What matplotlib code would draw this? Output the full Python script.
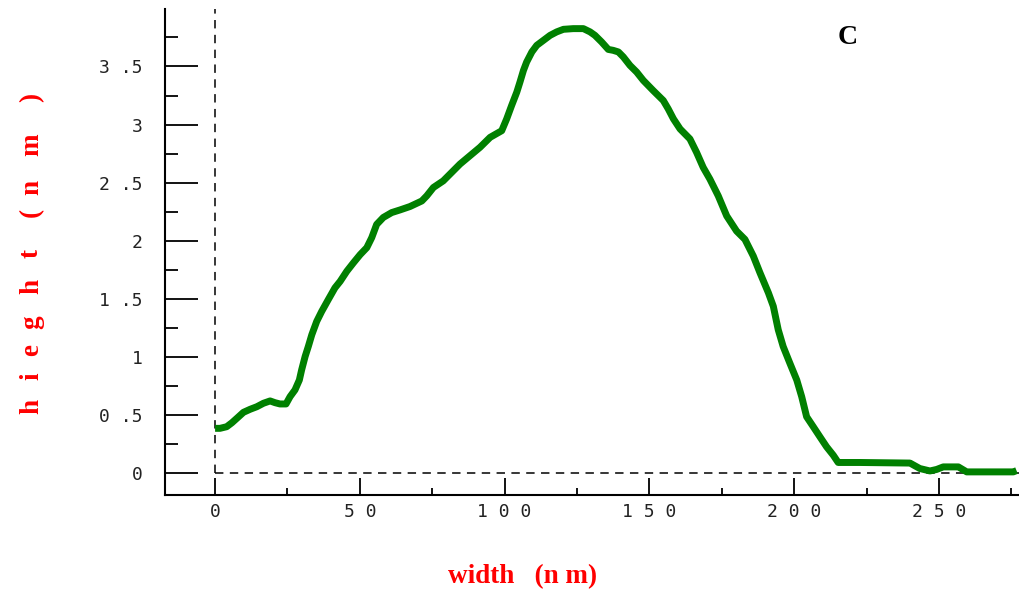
import numpy as np
import matplotlib.pyplot as plt
from matplotlib.ticker import MultipleLocator

# profile: width (nm) vs height (nm)
width_nm = [0, 1.7, 4.0, 5.8, 7.5, 9.8, 12.1, 14.4, 16.7, 19.0, 20.7, 22.4, 24.5,
            25.9, 27.6, 29.1, 29.9, 31.1, 32.2, 33.4, 35.1, 36.8, 39.1, 41.4,
            43.2, 45.5, 47.8, 50.1, 52.4, 54.1, 55.8, 58.1, 61.0, 63.9, 67.3,
            71.4, 73.1, 75.4, 78.8, 84.6, 91.5, 95.0, 99.0, 100.7, 102.4, 104.2,
            105.3, 106.5, 107.6, 109.4, 111.1, 113.4, 115.7, 118.0, 120.3, 123.7,
            127.2, 129.5, 131.2, 133.5, 135.8, 137.5, 139.3, 141.0, 143.3, 145.6,
            147.9, 151.3, 154.8, 156.5, 158.3, 160.6, 164.0, 166.3, 168.6, 170.9,
            173.8, 176.7, 180.1, 183.0, 185.9, 188.2, 191.1, 192.8, 194.5, 196.2,
            198.5, 200.9, 202.6, 204.3, 206.6, 208.9, 211.2, 213.5, 215.2, 222.7,
            240.0, 243.4, 246.9, 249.2, 251.5, 256.7, 259.6, 275.7, 276.8]
height_nm = [0.384, 0.384, 0.398, 0.432, 0.47, 0.522, 0.548, 0.57, 0.60, 0.62, 0.605,
             0.594, 0.594, 0.657, 0.715, 0.80, 0.888, 1.003, 1.089, 1.19, 1.305, 1.39,
             1.493, 1.594, 1.65, 1.737, 1.81, 1.88, 1.94, 2.026, 2.14, 2.20, 2.242,
             2.265, 2.294, 2.342, 2.386, 2.458, 2.515, 2.66, 2.804, 2.89, 2.947,
             3.048, 3.163, 3.279, 3.366, 3.466, 3.538, 3.625, 3.682, 3.725, 3.768,
             3.798, 3.82, 3.826, 3.826, 3.798, 3.768, 3.711, 3.647, 3.639, 3.625,
             3.582, 3.509, 3.452, 3.38, 3.293, 3.207, 3.135, 3.049, 2.962, 2.876,
             2.76, 2.63, 2.53, 2.385, 2.213, 2.083, 2.011, 1.867, 1.723, 1.551,
             1.435, 1.233, 1.089, 0.946, 0.80, 0.657, 0.484, 0.398, 0.311, 0.225,
             0.153, 0.09, 0.09, 0.085, 0.038, 0.017, 0.03, 0.052, 0.052, 0.009,
             0.009, 0.02]

xticks = [0, 50, 100, 150, 200, 250]
xtick_labels = ['0', '5 0', '1 0 0', '1 5 0', '2 0 0', '2 5 0']
yticks = [0, 0.5, 1, 1.5, 2, 2.5, 3, 3.5]
ytick_labels = ['0', '0 .5', '1', '1 .5', '2', '2 .5', '3', '3 .5']

fig = plt.figure(figsize=(10.2, 5.96), dpi=100)
ax = fig.add_axes([165 / 1020, 101 / 596, 855 / 1020, 486 / 596])

ax.set_xlim(-17.3, 278)
ax.set_ylim(-0.19, 3.995)

# dashed zero lines
ax.axvline(0, ymin=0.19 / 4.185, ymax=1, color='black', lw=1.1,
           linestyle=(0, (5.5, 4.2)), zorder=1)
ax.axhline(0, xmin=17.3 / 295.3, xmax=1, color='black', lw=1.1,
           linestyle=(0, (5.5, 4.2)), zorder=1)

ax.plot(width_nm, height_nm, color='green', lw=5, solid_capstyle='butt',
        solid_joinstyle='round', zorder=3)

for side in ['top', 'right']:
    ax.spines[side].set_visible(False)
for side in ['left', 'bottom']:
    ax.spines[side].set_linewidth(1.5)

ax.set_xticks(xticks)
ax.set_xticklabels(xtick_labels)
ax.set_yticks(yticks)
ax.set_yticklabels(ytick_labels)
ax.xaxis.set_minor_locator(MultipleLocator(25))
ax.yaxis.set_minor_locator(MultipleLocator(0.25))

ax.tick_params(axis='y', which='major', direction='in', length=24, width=1.3, pad=16)
ax.tick_params(axis='y', which='minor', direction='in', length=9.5, width=1.3)
ax.tick_params(axis='x', which='major', direction='in', length=12, width=1.3, pad=6)
ax.tick_params(axis='x', which='minor', direction='in', length=5, width=1.3)
for lab in ax.get_xticklabels() + ax.get_yticklabels():
    lab.set_fontfamily('DejaVu Sans Mono')
    lab.set_fontsize(13)
    lab.set_color('#222222')

# y label, letters widely spaced as in the original
ylabel_chars = ['h', 'i', 'e', 'g', 'h', 't', '(', 'n', 'm', ')']
ylabel_pos = [407, 376, 350, 322, 287, 254, 212, 187, 145, 97]
for ch, py in zip(ylabel_chars, ylabel_pos):
    fig.text(38 / 1020, 1 - py / 596, ch, rotation=90, rotation_mode='anchor',
             ha='center', va='baseline', color='red', fontsize=19.5,
             fontfamily='Liberation Serif', fontweight='bold')

fig.text(523 / 1020, 1 - 577 / 596, 'width   (n m)', ha='center', va='center',
         color='red', fontsize=19.5, fontfamily='Liberation Serif', fontweight='bold')
fig.text(848 / 1020, 1 - 38 / 596, 'C', ha='center', va='center',
         color='black', fontsize=20, fontfamily='Liberation Serif', fontweight='bold')

fig.savefig('out.png', dpi=100)
